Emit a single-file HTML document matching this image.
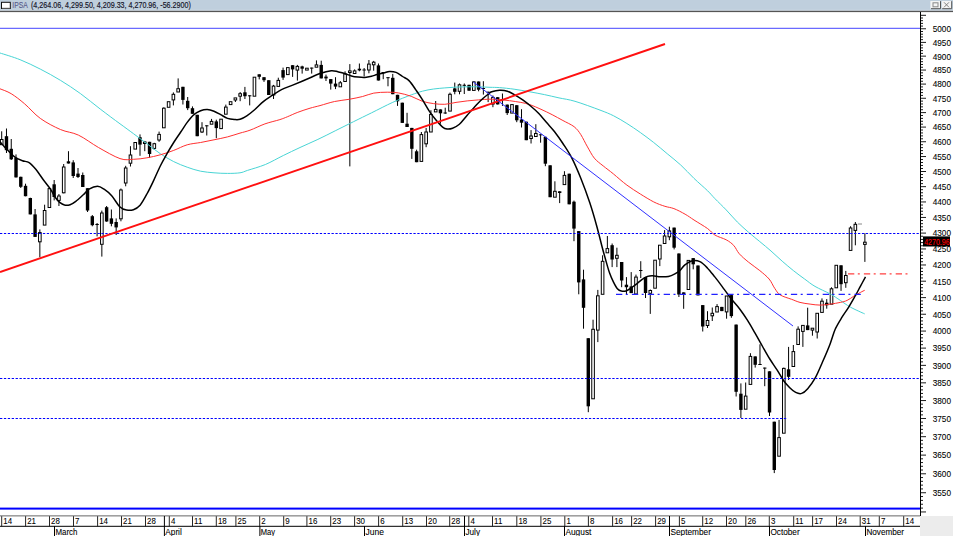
<!DOCTYPE html>
<html><head><meta charset="utf-8"><style>
html,body{margin:0;padding:0;background:#fff;}
#wrap{position:relative;width:953px;height:536px;overflow:hidden;background:#fff;font-family:"Liberation Sans",sans-serif;}
svg{position:absolute;left:0;top:0;}
text{font-family:"Liberation Sans",sans-serif;fill:#000;stroke:#000;stroke-width:0.08px;}
</style></head><body><div id="wrap">
<svg width="953" height="536" viewBox="0 0 953 536">
<rect x="0" y="0" width="953" height="536" fill="#fff"/>
<rect x="920" y="516" width="33" height="20" fill="#ececec"/>
<rect x="0" y="0" width="953" height="10.8" fill="#bfcfdd"/>
<rect x="0" y="9.8" width="953" height="1" fill="#d4dee8"/>
<rect x="0" y="10.8" width="953" height="1.3" fill="#555"/>
<g>
<rect x="1.5" y="2.3" width="8.8" height="6.2" fill="#fff" stroke="#111" stroke-width="1"/>
<line x1="2" y1="8.1" x2="10" y2="8.1" stroke="#999" stroke-width="0.8"/>
</g>
<text x="12.3" y="8.1" font-size="8.2" textLength="15.5" lengthAdjust="spacingAndGlyphs" style="fill:#585888;stroke:#585888;stroke-width:0.1px">IPSA</text>
<text x="31" y="8.1" font-size="8.2" textLength="159.8" lengthAdjust="spacingAndGlyphs" style="fill:#141428;stroke:#141428;stroke-width:0.15px">(4,264.06, 4,299.50, 4,209.33, 4,270.96, -56.2900)</text>
<g>
<rect x="930.4" y="1" width="9.6" height="7.7" fill="#f4f4f4"/>
<path d="M931 8.7 H940.5 V1.2" fill="none" stroke="#555" stroke-width="1"/>
<rect x="933" y="2.8" width="5" height="4" fill="none" stroke="#888" stroke-width="1"/>
<rect x="941.8" y="1" width="9.7" height="7.7" fill="#f4f4f4"/>
<path d="M942.2 8.7 H951.7 V1.2" fill="none" stroke="#555" stroke-width="1"/>
<path d="M944 2.3 L949 7.3 M949 2.3 L944 7.3" fill="none" stroke="#777" stroke-width="0.9"/>
</g>
<svg x="0" y="12" width="920" height="503.5" viewBox="0 12 920 503.5" overflow="hidden">
<line x1="1.70" y1="131.3" x2="1.70" y2="139.5" stroke="#000" stroke-width="1"/>
<line x1="1.70" y1="144.7" x2="1.70" y2="145.0" stroke="#000" stroke-width="1"/>
<rect x="0.40" y="139.5" width="2.6" height="5.2" fill="none" stroke="#000" stroke-width="1"/>
<line x1="6.47" y1="128.5" x2="6.47" y2="153.0" stroke="#000" stroke-width="1"/>
<rect x="4.77" y="136.2" width="3.4" height="14.0" fill="#000"/>
<line x1="11.24" y1="139.0" x2="11.24" y2="160.0" stroke="#000" stroke-width="1"/>
<rect x="9.54" y="148.8" width="3.4" height="10.5" fill="#000"/>
<line x1="16.01" y1="154.4" x2="16.01" y2="177.5" stroke="#000" stroke-width="1"/>
<rect x="14.31" y="158.0" width="3.4" height="19.4" fill="#000"/>
<line x1="20.78" y1="176.7" x2="20.78" y2="188.0" stroke="#000" stroke-width="1"/>
<rect x="19.08" y="176.8" width="3.4" height="10.0" fill="#000"/>
<line x1="25.54" y1="183.7" x2="25.54" y2="196.3" stroke="#000" stroke-width="1"/>
<rect x="23.84" y="185.8" width="3.4" height="10.4" fill="#000"/>
<line x1="30.31" y1="197.7" x2="30.31" y2="214.4" stroke="#000" stroke-width="1"/>
<rect x="28.61" y="198.0" width="3.4" height="16.4" fill="#000"/>
<line x1="35.08" y1="209.0" x2="35.08" y2="236.9" stroke="#000" stroke-width="1"/>
<rect x="33.38" y="214.4" width="3.4" height="22.5" fill="#000"/>
<line x1="39.85" y1="229.4" x2="39.85" y2="232.6" stroke="#000" stroke-width="1"/>
<line x1="39.85" y1="241.8" x2="39.85" y2="257.3" stroke="#000" stroke-width="1"/>
<rect x="38.55" y="232.6" width="2.6" height="9.2" fill="none" stroke="#000" stroke-width="1"/>
<line x1="44.62" y1="204.7" x2="44.62" y2="210.5" stroke="#000" stroke-width="1"/>
<rect x="43.32" y="210.5" width="2.6" height="14.6" fill="none" stroke="#000" stroke-width="1"/>
<line x1="49.39" y1="188.0" x2="49.39" y2="188.6" stroke="#000" stroke-width="1"/>
<rect x="48.09" y="188.6" width="2.6" height="18.9" fill="none" stroke="#000" stroke-width="1"/>
<line x1="54.16" y1="180.0" x2="54.16" y2="200.4" stroke="#000" stroke-width="1"/>
<rect x="52.46" y="184.3" width="3.4" height="12.7" fill="#000"/>
<line x1="58.93" y1="194.0" x2="58.93" y2="196.0" stroke="#000" stroke-width="1"/>
<line x1="58.93" y1="200.4" x2="58.93" y2="206.0" stroke="#000" stroke-width="1"/>
<rect x="57.63" y="196.0" width="2.6" height="4.4" fill="none" stroke="#000" stroke-width="1"/>
<line x1="63.70" y1="164.0" x2="63.70" y2="167.0" stroke="#000" stroke-width="1"/>
<line x1="63.70" y1="192.8" x2="63.70" y2="193.3" stroke="#000" stroke-width="1"/>
<rect x="62.40" y="167.0" width="2.6" height="25.8" fill="none" stroke="#000" stroke-width="1"/>
<line x1="68.47" y1="151.2" x2="68.47" y2="163.5" stroke="#000" stroke-width="1"/>
<rect x="66.77" y="161.3" width="3.4" height="2.2" fill="#000"/>
<line x1="73.23" y1="160.2" x2="73.23" y2="178.0" stroke="#000" stroke-width="1"/>
<rect x="71.53" y="162.4" width="3.4" height="13.6" fill="#000"/>
<line x1="78.00" y1="168.0" x2="78.00" y2="178.0" stroke="#000" stroke-width="1"/>
<rect x="76.30" y="173.6" width="3.4" height="3.4" fill="#000"/>
<line x1="82.77" y1="172.5" x2="82.77" y2="187.0" stroke="#000" stroke-width="1"/>
<rect x="81.07" y="175.0" width="3.4" height="12.0" fill="#000"/>
<line x1="87.54" y1="188.2" x2="87.54" y2="212.0" stroke="#000" stroke-width="1"/>
<rect x="85.84" y="188.2" width="3.4" height="22.3" fill="#000"/>
<line x1="92.31" y1="215.0" x2="92.31" y2="226.3" stroke="#000" stroke-width="1"/>
<rect x="90.61" y="216.2" width="3.4" height="9.0" fill="#000"/>
<line x1="97.08" y1="223.0" x2="97.08" y2="236.4" stroke="#000" stroke-width="1"/>
<rect x="95.38" y="224.0" width="3.4" height="1.0" fill="#000"/>
<line x1="101.85" y1="210.6" x2="101.85" y2="213.0" stroke="#000" stroke-width="1"/>
<line x1="101.85" y1="244.3" x2="101.85" y2="256.6" stroke="#000" stroke-width="1"/>
<rect x="100.55" y="213.0" width="2.6" height="31.3" fill="none" stroke="#000" stroke-width="1"/>
<line x1="106.62" y1="206.0" x2="106.62" y2="221.8" stroke="#000" stroke-width="1"/>
<rect x="104.92" y="207.2" width="3.4" height="14.3" fill="#000"/>
<line x1="111.39" y1="209.5" x2="111.39" y2="226.3" stroke="#000" stroke-width="1"/>
<rect x="109.69" y="218.4" width="3.4" height="5.4" fill="#000"/>
<line x1="116.16" y1="218.4" x2="116.16" y2="235.0" stroke="#000" stroke-width="1"/>
<rect x="114.46" y="222.0" width="3.4" height="5.4" fill="#000"/>
<line x1="120.93" y1="188.5" x2="120.93" y2="190.0" stroke="#000" stroke-width="1"/>
<line x1="120.93" y1="218.8" x2="120.93" y2="221.3" stroke="#000" stroke-width="1"/>
<rect x="119.63" y="190.0" width="2.6" height="28.8" fill="none" stroke="#000" stroke-width="1"/>
<line x1="125.69" y1="165.8" x2="125.69" y2="168.0" stroke="#000" stroke-width="1"/>
<line x1="125.69" y1="183.0" x2="125.69" y2="186.3" stroke="#000" stroke-width="1"/>
<rect x="124.39" y="168.0" width="2.6" height="15.0" fill="none" stroke="#000" stroke-width="1"/>
<line x1="130.46" y1="146.2" x2="130.46" y2="155.0" stroke="#000" stroke-width="1"/>
<line x1="130.46" y1="163.2" x2="130.46" y2="166.5" stroke="#000" stroke-width="1"/>
<rect x="129.16" y="155.0" width="2.6" height="8.2" fill="none" stroke="#000" stroke-width="1"/>
<line x1="135.23" y1="142.2" x2="135.23" y2="142.5" stroke="#000" stroke-width="1"/>
<rect x="133.93" y="142.5" width="2.6" height="6.6" fill="none" stroke="#000" stroke-width="1"/>
<line x1="140.00" y1="134.4" x2="140.00" y2="155.8" stroke="#000" stroke-width="1"/>
<rect x="138.30" y="137.2" width="3.4" height="7.4" fill="#000"/>
<line x1="144.77" y1="140.9" x2="144.77" y2="142.0" stroke="#000" stroke-width="1"/>
<line x1="144.77" y1="143.5" x2="144.77" y2="151.2" stroke="#000" stroke-width="1"/>
<rect x="143.47" y="142.0" width="2.6" height="1.5" fill="none" stroke="#000" stroke-width="1"/>
<line x1="149.54" y1="141.8" x2="149.54" y2="157.7" stroke="#000" stroke-width="1"/>
<rect x="147.84" y="141.8" width="3.4" height="12.2" fill="#000"/>
<line x1="154.31" y1="142.8" x2="154.31" y2="143.7" stroke="#000" stroke-width="1"/>
<line x1="154.31" y1="148.4" x2="154.31" y2="150.0" stroke="#000" stroke-width="1"/>
<rect x="153.01" y="143.7" width="2.6" height="4.7" fill="none" stroke="#000" stroke-width="1"/>
<line x1="159.08" y1="131.6" x2="159.08" y2="134.4" stroke="#000" stroke-width="1"/>
<line x1="159.08" y1="140.0" x2="159.08" y2="141.8" stroke="#000" stroke-width="1"/>
<rect x="157.78" y="134.4" width="2.6" height="5.6" fill="none" stroke="#000" stroke-width="1"/>
<line x1="163.85" y1="107.3" x2="163.85" y2="108.2" stroke="#000" stroke-width="1"/>
<rect x="162.55" y="108.2" width="2.6" height="19.6" fill="none" stroke="#000" stroke-width="1"/>
<rect x="167.31" y="101.7" width="2.6" height="5.6" fill="none" stroke="#000" stroke-width="1"/>
<line x1="173.38" y1="92.4" x2="173.38" y2="94.3" stroke="#000" stroke-width="1"/>
<line x1="173.38" y1="99.9" x2="173.38" y2="105.4" stroke="#000" stroke-width="1"/>
<rect x="172.08" y="94.3" width="2.6" height="5.6" fill="none" stroke="#000" stroke-width="1"/>
<line x1="178.15" y1="78.4" x2="178.15" y2="88.7" stroke="#000" stroke-width="1"/>
<rect x="176.85" y="88.7" width="2.6" height="3.3" fill="none" stroke="#000" stroke-width="1"/>
<line x1="182.92" y1="86.8" x2="182.92" y2="104.5" stroke="#000" stroke-width="1"/>
<rect x="181.22" y="86.8" width="3.4" height="13.1" fill="#000"/>
<line x1="187.69" y1="97.0" x2="187.69" y2="110.1" stroke="#000" stroke-width="1"/>
<rect x="185.99" y="100.8" width="3.4" height="7.4" fill="#000"/>
<line x1="192.46" y1="106.4" x2="192.46" y2="113.8" stroke="#000" stroke-width="1"/>
<rect x="190.76" y="108.2" width="3.4" height="5.6" fill="#000"/>
<line x1="197.23" y1="114.8" x2="197.23" y2="136.2" stroke="#000" stroke-width="1"/>
<rect x="195.53" y="114.8" width="3.4" height="21.4" fill="#000"/>
<line x1="202.00" y1="122.2" x2="202.00" y2="128.0" stroke="#000" stroke-width="1"/>
<line x1="202.00" y1="132.0" x2="202.00" y2="133.0" stroke="#000" stroke-width="1"/>
<rect x="200.70" y="128.0" width="2.6" height="4.0" fill="none" stroke="#000" stroke-width="1"/>
<line x1="206.77" y1="125.3" x2="206.77" y2="135.5" stroke="#000" stroke-width="1"/>
<rect x="205.07" y="125.3" width="3.4" height="1.0" fill="#000"/>
<line x1="211.54" y1="118.9" x2="211.54" y2="121.4" stroke="#000" stroke-width="1"/>
<rect x="210.24" y="121.4" width="2.6" height="2.8" fill="none" stroke="#000" stroke-width="1"/>
<line x1="216.31" y1="119.7" x2="216.31" y2="138.2" stroke="#000" stroke-width="1"/>
<rect x="214.61" y="121.4" width="3.4" height="6.7" fill="#000"/>
<rect x="219.77" y="119.2" width="2.6" height="9.4" fill="none" stroke="#000" stroke-width="1"/>
<line x1="225.84" y1="104.6" x2="225.84" y2="107.1" stroke="#000" stroke-width="1"/>
<rect x="224.54" y="107.1" width="2.6" height="7.1" fill="none" stroke="#000" stroke-width="1"/>
<rect x="229.31" y="101.7" width="2.6" height="2.9" fill="none" stroke="#000" stroke-width="1"/>
<line x1="235.38" y1="100.0" x2="235.38" y2="102.0" stroke="#000" stroke-width="1"/>
<rect x="234.08" y="97.9" width="2.6" height="2.1" fill="none" stroke="#000" stroke-width="1"/>
<line x1="240.15" y1="92.0" x2="240.15" y2="93.7" stroke="#000" stroke-width="1"/>
<line x1="240.15" y1="96.2" x2="240.15" y2="101.2" stroke="#000" stroke-width="1"/>
<rect x="238.85" y="93.7" width="2.6" height="2.5" fill="none" stroke="#000" stroke-width="1"/>
<line x1="244.92" y1="86.9" x2="244.92" y2="99.0" stroke="#000" stroke-width="1"/>
<rect x="243.22" y="92.3" width="3.4" height="3.9" fill="#000"/>
<line x1="249.69" y1="95.3" x2="249.69" y2="105.4" stroke="#000" stroke-width="1"/>
<rect x="247.99" y="95.3" width="3.4" height="1.0" fill="#000"/>
<rect x="253.16" y="77.2" width="2.6" height="19.0" fill="none" stroke="#000" stroke-width="1"/>
<line x1="259.23" y1="74.3" x2="259.23" y2="79.4" stroke="#000" stroke-width="1"/>
<rect x="257.53" y="74.3" width="3.4" height="2.5" fill="#000"/>
<line x1="264.00" y1="77.2" x2="264.00" y2="81.9" stroke="#000" stroke-width="1"/>
<rect x="262.30" y="77.2" width="3.4" height="3.0" fill="#000"/>
<line x1="268.76" y1="80.2" x2="268.76" y2="95.0" stroke="#000" stroke-width="1"/>
<rect x="267.06" y="80.2" width="3.4" height="14.8" fill="#000"/>
<line x1="273.53" y1="84.9" x2="273.53" y2="86.1" stroke="#000" stroke-width="1"/>
<line x1="273.53" y1="95.0" x2="273.53" y2="99.0" stroke="#000" stroke-width="1"/>
<rect x="272.23" y="86.1" width="2.6" height="8.9" fill="none" stroke="#000" stroke-width="1"/>
<line x1="278.30" y1="77.7" x2="278.30" y2="80.4" stroke="#000" stroke-width="1"/>
<rect x="277.00" y="80.4" width="2.6" height="6.0" fill="none" stroke="#000" stroke-width="1"/>
<line x1="283.07" y1="67.6" x2="283.07" y2="79.9" stroke="#000" stroke-width="1"/>
<rect x="281.37" y="70.1" width="3.4" height="7.5" fill="#000"/>
<rect x="286.54" y="67.6" width="2.6" height="7.0" fill="none" stroke="#000" stroke-width="1"/>
<line x1="292.61" y1="65.2" x2="292.61" y2="76.9" stroke="#000" stroke-width="1"/>
<rect x="290.91" y="65.2" width="3.4" height="4.2" fill="#000"/>
<line x1="297.38" y1="64.9" x2="297.38" y2="66.4" stroke="#000" stroke-width="1"/>
<line x1="297.38" y1="70.1" x2="297.38" y2="80.6" stroke="#000" stroke-width="1"/>
<rect x="296.08" y="66.4" width="2.6" height="3.7" fill="none" stroke="#000" stroke-width="1"/>
<line x1="302.15" y1="65.7" x2="302.15" y2="73.6" stroke="#000" stroke-width="1"/>
<rect x="300.45" y="66.4" width="3.4" height="2.3" fill="#000"/>
<rect x="305.62" y="68.2" width="2.6" height="1.9" fill="none" stroke="#000" stroke-width="1"/>
<line x1="311.69" y1="67.6" x2="311.69" y2="73.6" stroke="#000" stroke-width="1"/>
<rect x="309.99" y="67.6" width="3.4" height="1.0" fill="#000"/>
<line x1="316.45" y1="60.4" x2="316.45" y2="64.9" stroke="#000" stroke-width="1"/>
<rect x="315.15" y="64.9" width="2.6" height="2.3" fill="none" stroke="#000" stroke-width="1"/>
<line x1="321.22" y1="60.7" x2="321.22" y2="78.4" stroke="#000" stroke-width="1"/>
<rect x="319.52" y="64.9" width="3.4" height="13.5" fill="#000"/>
<line x1="325.99" y1="74.6" x2="325.99" y2="81.0" stroke="#000" stroke-width="1"/>
<rect x="324.29" y="76.6" width="3.4" height="1.8" fill="#000"/>
<line x1="330.76" y1="79.1" x2="330.76" y2="89.6" stroke="#000" stroke-width="1"/>
<rect x="329.06" y="79.1" width="3.4" height="4.5" fill="#000"/>
<line x1="335.53" y1="77.2" x2="335.53" y2="89.1" stroke="#000" stroke-width="1"/>
<rect x="333.83" y="83.6" width="3.4" height="3.0" fill="#000"/>
<line x1="340.30" y1="81.0" x2="340.30" y2="82.8" stroke="#000" stroke-width="1"/>
<rect x="339.00" y="82.8" width="2.6" height="4.0" fill="none" stroke="#000" stroke-width="1"/>
<line x1="345.07" y1="71.3" x2="345.07" y2="74.0" stroke="#000" stroke-width="1"/>
<rect x="343.77" y="74.0" width="2.6" height="7.5" fill="none" stroke="#000" stroke-width="1"/>
<line x1="349.84" y1="64.1" x2="349.84" y2="70.9" stroke="#000" stroke-width="1"/>
<line x1="349.84" y1="72.5" x2="349.84" y2="166.4" stroke="#000" stroke-width="1"/>
<rect x="348.54" y="70.9" width="2.6" height="1.6" fill="none" stroke="#000" stroke-width="1"/>
<line x1="354.61" y1="69.4" x2="354.61" y2="70.9" stroke="#000" stroke-width="1"/>
<line x1="354.61" y1="73.5" x2="354.61" y2="73.9" stroke="#000" stroke-width="1"/>
<rect x="353.31" y="70.9" width="2.6" height="2.6" fill="none" stroke="#000" stroke-width="1"/>
<line x1="359.38" y1="63.5" x2="359.38" y2="71.3" stroke="#000" stroke-width="1"/>
<rect x="357.68" y="68.7" width="3.4" height="1.7" fill="#000"/>
<line x1="364.14" y1="68.0" x2="364.14" y2="76.5" stroke="#000" stroke-width="1"/>
<rect x="362.44" y="69.5" width="3.4" height="1.0" fill="#000"/>
<line x1="368.91" y1="60.0" x2="368.91" y2="64.1" stroke="#000" stroke-width="1"/>
<line x1="368.91" y1="70.0" x2="368.91" y2="73.3" stroke="#000" stroke-width="1"/>
<rect x="367.61" y="64.1" width="2.6" height="5.9" fill="none" stroke="#000" stroke-width="1"/>
<line x1="373.68" y1="60.9" x2="373.68" y2="62.2" stroke="#000" stroke-width="1"/>
<line x1="373.68" y1="64.8" x2="373.68" y2="70.7" stroke="#000" stroke-width="1"/>
<rect x="372.38" y="62.2" width="2.6" height="2.6" fill="none" stroke="#000" stroke-width="1"/>
<line x1="378.45" y1="63.5" x2="378.45" y2="80.5" stroke="#000" stroke-width="1"/>
<rect x="376.75" y="65.4" width="3.4" height="15.1" fill="#000"/>
<line x1="383.22" y1="72.0" x2="383.22" y2="79.2" stroke="#000" stroke-width="1"/>
<rect x="381.52" y="72.0" width="3.4" height="1.0" fill="#000"/>
<line x1="387.99" y1="77.2" x2="387.99" y2="86.3" stroke="#000" stroke-width="1"/>
<rect x="386.29" y="77.2" width="3.4" height="1.0" fill="#000"/>
<line x1="392.76" y1="73.9" x2="392.76" y2="94.2" stroke="#000" stroke-width="1"/>
<rect x="391.06" y="77.8" width="3.4" height="16.4" fill="#000"/>
<line x1="397.53" y1="94.8" x2="397.53" y2="105.9" stroke="#000" stroke-width="1"/>
<rect x="395.83" y="94.8" width="3.4" height="6.5" fill="#000"/>
<line x1="402.30" y1="102.7" x2="402.30" y2="122.9" stroke="#000" stroke-width="1"/>
<rect x="400.60" y="102.7" width="3.4" height="20.2" fill="#000"/>
<line x1="407.06" y1="112.8" x2="407.06" y2="127.0" stroke="#000" stroke-width="1"/>
<rect x="405.37" y="123.7" width="3.4" height="3.3" fill="#000"/>
<line x1="411.83" y1="127.9" x2="411.83" y2="158.9" stroke="#000" stroke-width="1"/>
<rect x="410.13" y="127.9" width="3.4" height="20.9" fill="#000"/>
<line x1="416.60" y1="149.7" x2="416.60" y2="162.2" stroke="#000" stroke-width="1"/>
<rect x="414.90" y="151.3" width="3.4" height="10.9" fill="#000"/>
<line x1="421.37" y1="132.0" x2="421.37" y2="134.6" stroke="#000" stroke-width="1"/>
<rect x="420.07" y="134.6" width="2.6" height="26.8" fill="none" stroke="#000" stroke-width="1"/>
<line x1="426.14" y1="127.9" x2="426.14" y2="132.0" stroke="#000" stroke-width="1"/>
<line x1="426.14" y1="143.8" x2="426.14" y2="147.2" stroke="#000" stroke-width="1"/>
<rect x="424.84" y="132.0" width="2.6" height="11.8" fill="none" stroke="#000" stroke-width="1"/>
<line x1="430.91" y1="110.2" x2="430.91" y2="114.4" stroke="#000" stroke-width="1"/>
<rect x="429.61" y="114.4" width="2.6" height="17.6" fill="none" stroke="#000" stroke-width="1"/>
<line x1="435.68" y1="101.0" x2="435.68" y2="109.4" stroke="#000" stroke-width="1"/>
<rect x="434.38" y="109.4" width="2.6" height="2.5" fill="none" stroke="#000" stroke-width="1"/>
<line x1="440.45" y1="109.4" x2="440.45" y2="123.7" stroke="#000" stroke-width="1"/>
<rect x="438.75" y="109.4" width="3.4" height="3.9" fill="#000"/>
<line x1="445.22" y1="107.7" x2="445.22" y2="113.9" stroke="#000" stroke-width="1"/>
<rect x="443.52" y="112.5" width="3.4" height="1.0" fill="#000"/>
<line x1="449.99" y1="92.6" x2="449.99" y2="94.3" stroke="#000" stroke-width="1"/>
<rect x="448.69" y="94.3" width="2.6" height="16.8" fill="none" stroke="#000" stroke-width="1"/>
<line x1="454.75" y1="82.6" x2="454.75" y2="94.3" stroke="#000" stroke-width="1"/>
<rect x="453.06" y="88.4" width="3.4" height="3.4" fill="#000"/>
<line x1="459.52" y1="83.5" x2="459.52" y2="84.8" stroke="#000" stroke-width="1"/>
<line x1="459.52" y1="91.3" x2="459.52" y2="94.3" stroke="#000" stroke-width="1"/>
<rect x="458.22" y="84.8" width="2.6" height="6.5" fill="none" stroke="#000" stroke-width="1"/>
<line x1="464.29" y1="83.5" x2="464.29" y2="94.0" stroke="#000" stroke-width="1"/>
<rect x="462.59" y="84.8" width="3.4" height="1.0" fill="#000"/>
<line x1="469.06" y1="84.8" x2="469.06" y2="90.9" stroke="#000" stroke-width="1"/>
<rect x="467.36" y="84.8" width="3.4" height="5.9" fill="#000"/>
<line x1="473.83" y1="81.2" x2="473.83" y2="81.9" stroke="#000" stroke-width="1"/>
<rect x="472.53" y="81.9" width="2.6" height="8.5" fill="none" stroke="#000" stroke-width="1"/>
<line x1="478.60" y1="81.5" x2="478.60" y2="91.3" stroke="#000" stroke-width="1"/>
<rect x="476.90" y="81.5" width="3.4" height="8.2" fill="#000"/>
<line x1="483.37" y1="81.2" x2="483.37" y2="94.6" stroke="#000" stroke-width="1"/>
<rect x="481.67" y="88.0" width="3.4" height="1.0" fill="#000"/>
<line x1="488.14" y1="91.7" x2="488.14" y2="102.1" stroke="#000" stroke-width="1"/>
<rect x="486.44" y="91.7" width="3.4" height="1.0" fill="#000"/>
<line x1="492.91" y1="95.5" x2="492.91" y2="97.4" stroke="#000" stroke-width="1"/>
<line x1="492.91" y1="104.0" x2="492.91" y2="107.2" stroke="#000" stroke-width="1"/>
<rect x="491.61" y="97.4" width="2.6" height="6.6" fill="none" stroke="#000" stroke-width="1"/>
<line x1="497.68" y1="97.0" x2="497.68" y2="104.5" stroke="#000" stroke-width="1"/>
<rect x="495.98" y="97.2" width="3.4" height="7.2" fill="#000"/>
<line x1="502.44" y1="93.5" x2="502.44" y2="105.9" stroke="#000" stroke-width="1"/>
<rect x="500.75" y="99.0" width="3.4" height="1.0" fill="#000"/>
<line x1="507.21" y1="104.6" x2="507.21" y2="115.0" stroke="#000" stroke-width="1"/>
<rect x="505.51" y="104.6" width="3.4" height="8.5" fill="#000"/>
<rect x="510.68" y="104.6" width="2.6" height="8.5" fill="none" stroke="#000" stroke-width="1"/>
<line x1="516.75" y1="105.2" x2="516.75" y2="122.2" stroke="#000" stroke-width="1"/>
<rect x="515.05" y="105.2" width="3.4" height="15.1" fill="#000"/>
<line x1="521.52" y1="109.2" x2="521.52" y2="127.5" stroke="#000" stroke-width="1"/>
<rect x="519.82" y="119.5" width="3.4" height="3.2" fill="#000"/>
<line x1="526.29" y1="121.7" x2="526.29" y2="140.2" stroke="#000" stroke-width="1"/>
<rect x="524.59" y="121.7" width="3.4" height="18.5" fill="#000"/>
<line x1="531.06" y1="130.1" x2="531.06" y2="136.0" stroke="#000" stroke-width="1"/>
<line x1="531.06" y1="138.5" x2="531.06" y2="143.5" stroke="#000" stroke-width="1"/>
<rect x="529.76" y="136.0" width="2.6" height="2.5" fill="none" stroke="#000" stroke-width="1"/>
<line x1="535.83" y1="124.2" x2="535.83" y2="133.5" stroke="#000" stroke-width="1"/>
<rect x="534.53" y="133.5" width="2.6" height="3.0" fill="none" stroke="#000" stroke-width="1"/>
<line x1="540.60" y1="134.3" x2="540.60" y2="142.7" stroke="#000" stroke-width="1"/>
<rect x="538.90" y="134.3" width="3.4" height="1.0" fill="#000"/>
<line x1="545.37" y1="136.8" x2="545.37" y2="166.2" stroke="#000" stroke-width="1"/>
<rect x="543.67" y="136.8" width="3.4" height="26.9" fill="#000"/>
<line x1="550.14" y1="165.3" x2="550.14" y2="197.2" stroke="#000" stroke-width="1"/>
<rect x="548.44" y="165.3" width="3.4" height="31.9" fill="#000"/>
<line x1="554.90" y1="181.3" x2="554.90" y2="191.3" stroke="#000" stroke-width="1"/>
<rect x="553.60" y="191.3" width="2.6" height="5.9" fill="none" stroke="#000" stroke-width="1"/>
<line x1="559.67" y1="191.3" x2="559.67" y2="203.1" stroke="#000" stroke-width="1"/>
<rect x="557.97" y="191.3" width="3.4" height="1.7" fill="#000"/>
<line x1="564.44" y1="171.2" x2="564.44" y2="175.4" stroke="#000" stroke-width="1"/>
<rect x="563.14" y="175.4" width="2.6" height="9.2" fill="none" stroke="#000" stroke-width="1"/>
<line x1="569.21" y1="173.7" x2="569.21" y2="204.3" stroke="#000" stroke-width="1"/>
<rect x="567.51" y="173.7" width="3.4" height="30.6" fill="#000"/>
<line x1="573.98" y1="200.6" x2="573.98" y2="241.2" stroke="#000" stroke-width="1"/>
<rect x="572.28" y="201.7" width="3.4" height="26.9" fill="#000"/>
<line x1="578.75" y1="231.1" x2="578.75" y2="294.3" stroke="#000" stroke-width="1"/>
<rect x="577.05" y="231.1" width="3.4" height="51.3" fill="#000"/>
<line x1="583.52" y1="269.7" x2="583.52" y2="328.7" stroke="#000" stroke-width="1"/>
<rect x="581.82" y="279.4" width="3.4" height="28.4" fill="#000"/>
<line x1="588.29" y1="338.2" x2="588.29" y2="412.2" stroke="#000" stroke-width="1"/>
<rect x="586.59" y="338.2" width="3.4" height="68.1" fill="#000"/>
<line x1="593.06" y1="319.7" x2="593.06" y2="329.3" stroke="#000" stroke-width="1"/>
<rect x="591.76" y="329.3" width="2.6" height="69.5" fill="none" stroke="#000" stroke-width="1"/>
<line x1="597.83" y1="289.9" x2="597.83" y2="295.8" stroke="#000" stroke-width="1"/>
<line x1="597.83" y1="330.1" x2="597.83" y2="342.1" stroke="#000" stroke-width="1"/>
<rect x="596.53" y="295.8" width="2.6" height="34.3" fill="none" stroke="#000" stroke-width="1"/>
<line x1="602.59" y1="255.3" x2="602.59" y2="261.3" stroke="#000" stroke-width="1"/>
<rect x="601.29" y="261.3" width="2.6" height="33.0" fill="none" stroke="#000" stroke-width="1"/>
<line x1="607.36" y1="236.0" x2="607.36" y2="248.6" stroke="#000" stroke-width="1"/>
<rect x="606.06" y="248.6" width="2.6" height="4.2" fill="none" stroke="#000" stroke-width="1"/>
<line x1="612.13" y1="243.5" x2="612.13" y2="267.1" stroke="#000" stroke-width="1"/>
<rect x="610.43" y="245.2" width="3.4" height="14.3" fill="#000"/>
<line x1="616.90" y1="247.7" x2="616.90" y2="255.3" stroke="#000" stroke-width="1"/>
<line x1="616.90" y1="258.3" x2="616.90" y2="267.1" stroke="#000" stroke-width="1"/>
<rect x="615.60" y="255.3" width="2.6" height="3.0" fill="none" stroke="#000" stroke-width="1"/>
<line x1="621.67" y1="262.0" x2="621.67" y2="287.2" stroke="#000" stroke-width="1"/>
<rect x="619.97" y="262.0" width="3.4" height="18.5" fill="#000"/>
<line x1="626.44" y1="277.1" x2="626.44" y2="294.0" stroke="#000" stroke-width="1"/>
<rect x="624.74" y="284.7" width="3.4" height="2.5" fill="#000"/>
<line x1="631.21" y1="272.1" x2="631.21" y2="293.1" stroke="#000" stroke-width="1"/>
<rect x="629.51" y="286.4" width="3.4" height="6.7" fill="#000"/>
<line x1="635.98" y1="274.6" x2="635.98" y2="277.1" stroke="#000" stroke-width="1"/>
<rect x="634.68" y="277.1" width="2.6" height="16.9" fill="none" stroke="#000" stroke-width="1"/>
<line x1="640.75" y1="261.2" x2="640.75" y2="278.0" stroke="#000" stroke-width="1"/>
<rect x="639.05" y="270.0" width="3.4" height="1.0" fill="#000"/>
<line x1="645.52" y1="276.9" x2="645.52" y2="298.0" stroke="#000" stroke-width="1"/>
<rect x="643.82" y="277.0" width="3.4" height="16.0" fill="#000"/>
<line x1="650.28" y1="289.5" x2="650.28" y2="290.5" stroke="#000" stroke-width="1"/>
<line x1="650.28" y1="293.3" x2="650.28" y2="313.9" stroke="#000" stroke-width="1"/>
<rect x="648.98" y="290.5" width="2.6" height="2.8" fill="none" stroke="#000" stroke-width="1"/>
<rect x="653.75" y="260.2" width="2.6" height="28.0" fill="none" stroke="#000" stroke-width="1"/>
<line x1="659.82" y1="259.0" x2="659.82" y2="266.1" stroke="#000" stroke-width="1"/>
<rect x="658.52" y="245.2" width="2.6" height="13.8" fill="none" stroke="#000" stroke-width="1"/>
<line x1="664.59" y1="230.1" x2="664.59" y2="236.0" stroke="#000" stroke-width="1"/>
<rect x="663.29" y="236.0" width="2.6" height="7.5" fill="none" stroke="#000" stroke-width="1"/>
<line x1="669.36" y1="226.7" x2="669.36" y2="230.9" stroke="#000" stroke-width="1"/>
<line x1="669.36" y1="236.8" x2="669.36" y2="240.2" stroke="#000" stroke-width="1"/>
<rect x="668.06" y="230.9" width="2.6" height="5.9" fill="none" stroke="#000" stroke-width="1"/>
<line x1="674.13" y1="227.6" x2="674.13" y2="249.4" stroke="#000" stroke-width="1"/>
<rect x="672.43" y="227.6" width="3.4" height="20.1" fill="#000"/>
<line x1="678.90" y1="253.4" x2="678.90" y2="297.0" stroke="#000" stroke-width="1"/>
<rect x="677.20" y="253.5" width="3.4" height="41.0" fill="#000"/>
<line x1="683.67" y1="292.4" x2="683.67" y2="308.8" stroke="#000" stroke-width="1"/>
<rect x="681.97" y="292.4" width="3.4" height="1.6" fill="#000"/>
<rect x="687.14" y="260.4" width="2.6" height="29.1" fill="none" stroke="#000" stroke-width="1"/>
<line x1="693.21" y1="258.1" x2="693.21" y2="269.3" stroke="#000" stroke-width="1"/>
<rect x="691.50" y="258.1" width="3.4" height="6.2" fill="#000"/>
<line x1="697.97" y1="265.5" x2="697.97" y2="295.4" stroke="#000" stroke-width="1"/>
<rect x="696.27" y="265.5" width="3.4" height="29.9" fill="#000"/>
<line x1="702.74" y1="305.1" x2="702.74" y2="331.5" stroke="#000" stroke-width="1"/>
<rect x="701.04" y="305.1" width="3.4" height="21.4" fill="#000"/>
<line x1="707.51" y1="311.2" x2="707.51" y2="320.5" stroke="#000" stroke-width="1"/>
<line x1="707.51" y1="325.5" x2="707.51" y2="328.0" stroke="#000" stroke-width="1"/>
<rect x="706.21" y="320.5" width="2.6" height="5.0" fill="none" stroke="#000" stroke-width="1"/>
<line x1="712.28" y1="307.5" x2="712.28" y2="313.3" stroke="#000" stroke-width="1"/>
<line x1="712.28" y1="315.8" x2="712.28" y2="321.0" stroke="#000" stroke-width="1"/>
<rect x="710.98" y="313.3" width="2.6" height="2.5" fill="none" stroke="#000" stroke-width="1"/>
<line x1="717.05" y1="304.1" x2="717.05" y2="306.6" stroke="#000" stroke-width="1"/>
<rect x="715.75" y="306.6" width="2.6" height="5.4" fill="none" stroke="#000" stroke-width="1"/>
<line x1="721.82" y1="306.9" x2="721.82" y2="311.1" stroke="#000" stroke-width="1"/>
<rect x="720.12" y="306.9" width="3.4" height="4.2" fill="#000"/>
<line x1="726.59" y1="311.9" x2="726.59" y2="318.7" stroke="#000" stroke-width="1"/>
<rect x="725.29" y="296.0" width="2.6" height="15.9" fill="none" stroke="#000" stroke-width="1"/>
<line x1="731.36" y1="295.1" x2="731.36" y2="317.8" stroke="#000" stroke-width="1"/>
<rect x="729.66" y="295.1" width="3.4" height="21.0" fill="#000"/>
<line x1="736.13" y1="324.5" x2="736.13" y2="396.5" stroke="#000" stroke-width="1"/>
<rect x="734.43" y="324.6" width="3.4" height="67.2" fill="#000"/>
<line x1="740.90" y1="383.4" x2="740.90" y2="418.0" stroke="#000" stroke-width="1"/>
<rect x="739.20" y="393.7" width="3.4" height="16.2" fill="#000"/>
<line x1="745.66" y1="382.5" x2="745.66" y2="396.1" stroke="#000" stroke-width="1"/>
<rect x="744.36" y="396.1" width="2.6" height="13.1" fill="none" stroke="#000" stroke-width="1"/>
<line x1="750.43" y1="353.2" x2="750.43" y2="356.4" stroke="#000" stroke-width="1"/>
<rect x="749.13" y="356.4" width="2.6" height="28.0" fill="none" stroke="#000" stroke-width="1"/>
<line x1="755.20" y1="356.4" x2="755.20" y2="367.6" stroke="#000" stroke-width="1"/>
<rect x="753.50" y="356.4" width="3.4" height="8.4" fill="#000"/>
<line x1="759.97" y1="344.3" x2="759.97" y2="364.8" stroke="#000" stroke-width="1"/>
<rect x="758.27" y="364.0" width="3.4" height="1.0" fill="#000"/>
<line x1="764.74" y1="367.6" x2="764.74" y2="386.2" stroke="#000" stroke-width="1"/>
<rect x="763.04" y="367.6" width="3.4" height="1.0" fill="#000"/>
<line x1="769.51" y1="371.3" x2="769.51" y2="416.0" stroke="#000" stroke-width="1"/>
<rect x="767.81" y="371.3" width="3.4" height="41.2" fill="#000"/>
<line x1="774.28" y1="421.7" x2="774.28" y2="473.1" stroke="#000" stroke-width="1"/>
<rect x="772.58" y="421.7" width="3.4" height="48.3" fill="#000"/>
<line x1="779.05" y1="419.9" x2="779.05" y2="437.6" stroke="#000" stroke-width="1"/>
<rect x="777.75" y="437.6" width="2.6" height="18.6" fill="none" stroke="#000" stroke-width="1"/>
<line x1="783.82" y1="367.6" x2="783.82" y2="368.4" stroke="#000" stroke-width="1"/>
<rect x="782.52" y="368.4" width="2.6" height="64.8" fill="none" stroke="#000" stroke-width="1"/>
<line x1="788.59" y1="346.9" x2="788.59" y2="380.0" stroke="#000" stroke-width="1"/>
<rect x="786.88" y="369.3" width="3.4" height="7.5" fill="#000"/>
<line x1="793.35" y1="345.0" x2="793.35" y2="351.6" stroke="#000" stroke-width="1"/>
<rect x="792.05" y="351.6" width="2.6" height="14.9" fill="none" stroke="#000" stroke-width="1"/>
<line x1="798.12" y1="326.4" x2="798.12" y2="329.2" stroke="#000" stroke-width="1"/>
<rect x="796.82" y="329.2" width="2.6" height="15.3" fill="none" stroke="#000" stroke-width="1"/>
<line x1="802.89" y1="331.4" x2="802.89" y2="346.9" stroke="#000" stroke-width="1"/>
<rect x="801.59" y="325.4" width="2.6" height="6.0" fill="none" stroke="#000" stroke-width="1"/>
<line x1="807.66" y1="307.7" x2="807.66" y2="330.1" stroke="#000" stroke-width="1"/>
<rect x="805.96" y="325.4" width="3.4" height="4.7" fill="#000"/>
<line x1="812.43" y1="330.1" x2="812.43" y2="335.7" stroke="#000" stroke-width="1"/>
<rect x="811.13" y="328.2" width="2.6" height="1.9" fill="none" stroke="#000" stroke-width="1"/>
<line x1="817.20" y1="332.0" x2="817.20" y2="338.5" stroke="#000" stroke-width="1"/>
<rect x="815.90" y="313.3" width="2.6" height="18.7" fill="none" stroke="#000" stroke-width="1"/>
<line x1="821.97" y1="298.4" x2="821.97" y2="301.2" stroke="#000" stroke-width="1"/>
<rect x="820.67" y="301.2" width="2.6" height="11.2" fill="none" stroke="#000" stroke-width="1"/>
<line x1="826.74" y1="299.1" x2="826.74" y2="308.7" stroke="#000" stroke-width="1"/>
<rect x="825.04" y="302.7" width="3.4" height="2.6" fill="#000"/>
<line x1="831.51" y1="287.3" x2="831.51" y2="288.8" stroke="#000" stroke-width="1"/>
<rect x="830.21" y="288.8" width="2.6" height="15.4" fill="none" stroke="#000" stroke-width="1"/>
<rect x="834.98" y="265.3" width="2.6" height="22.5" fill="none" stroke="#000" stroke-width="1"/>
<line x1="841.04" y1="265.3" x2="841.04" y2="290.9" stroke="#000" stroke-width="1"/>
<rect x="839.34" y="265.3" width="3.4" height="18.9" fill="#000"/>
<line x1="845.81" y1="270.9" x2="845.81" y2="275.5" stroke="#000" stroke-width="1"/>
<line x1="845.81" y1="282.7" x2="845.81" y2="287.8" stroke="#000" stroke-width="1"/>
<rect x="844.51" y="275.5" width="2.6" height="7.2" fill="none" stroke="#000" stroke-width="1"/>
<line x1="850.58" y1="226.2" x2="850.58" y2="228.0" stroke="#000" stroke-width="1"/>
<rect x="849.28" y="228.0" width="2.6" height="22.4" fill="none" stroke="#000" stroke-width="1"/>
<line x1="855.35" y1="222.0" x2="855.35" y2="224.3" stroke="#000" stroke-width="1"/>
<line x1="855.35" y1="230.4" x2="855.35" y2="245.3" stroke="#000" stroke-width="1"/>
<rect x="854.05" y="224.3" width="2.6" height="6.1" fill="none" stroke="#000" stroke-width="1"/>
<line x1="864.89" y1="233.2" x2="864.89" y2="242.2" stroke="#000" stroke-width="1"/>
<line x1="864.89" y1="244.4" x2="864.89" y2="261.9" stroke="#000" stroke-width="1"/>
<rect x="863.59" y="242.2" width="2.6" height="2.2" fill="none" stroke="#000" stroke-width="1"/>
<line x1="858" y1="224" x2="862" y2="224" stroke="#888" stroke-width="1"/>
<path d="M0.0 53.0 C3.4 54.1 13.4 57.0 20.1 59.7 C26.8 62.4 33.6 65.7 40.3 69.1 C47.0 72.5 53.7 76.2 60.4 80.3 C67.1 84.4 73.9 88.8 80.6 93.7 C87.3 98.6 94.1 104.4 100.7 109.4 C107.3 114.4 114.5 119.8 120.0 123.8 C125.5 127.8 128.9 130.3 133.4 133.6 C137.9 136.9 142.4 140.3 146.9 143.7 C151.4 147.0 155.8 150.7 160.3 153.7 C164.8 156.7 169.2 159.3 173.7 161.6 C178.2 163.8 182.7 165.6 187.2 167.2 C191.7 168.8 196.1 170.3 200.6 171.2 C205.1 172.1 209.5 172.4 214.0 172.8 C218.5 173.2 223.2 173.4 227.5 173.4 C231.8 173.4 236.7 173.3 240.0 172.8 C243.3 172.3 243.3 171.8 247.5 170.4 C251.7 169.0 259.4 167.0 265.4 164.5 C271.4 162.0 277.5 158.3 283.3 155.5 C289.1 152.7 294.2 150.2 300.0 147.5 C305.8 144.8 311.9 142.2 317.9 139.4 C323.9 136.6 329.8 133.5 335.8 130.5 C341.8 127.5 347.7 124.5 353.7 121.6 C359.7 118.6 365.1 116.0 371.6 112.8 C378.1 109.6 386.2 105.3 392.8 102.3 C399.4 99.3 406.3 96.8 411.2 94.9 C416.1 93.1 418.7 92.2 422.4 91.2 C426.1 90.2 429.9 89.5 433.6 89.0 C437.3 88.5 441.1 88.2 444.8 87.9 C448.5 87.6 452.3 87.3 456.0 87.1 C459.7 86.9 463.5 86.8 467.2 86.8 C470.9 86.8 474.6 86.7 478.4 86.8 C482.2 86.9 486.5 87.2 490.0 87.3 C493.5 87.4 495.6 87.3 499.6 87.6 C503.6 87.9 509.1 88.5 514.1 89.2 C519.1 89.9 524.8 90.9 529.8 91.8 C534.8 92.7 539.5 93.6 544.4 94.6 C549.3 95.6 553.9 96.8 559.0 97.9 C564.1 99.0 568.2 99.3 575.0 101.3 C581.8 103.3 593.6 107.7 600.0 110.1 C606.4 112.5 608.9 113.5 613.4 115.7 C617.9 117.9 622.4 120.7 626.9 123.5 C631.4 126.3 635.8 129.3 640.3 132.5 C644.8 135.7 649.2 139.0 653.7 142.5 C658.2 146.0 662.7 150.0 667.2 153.7 C671.7 157.4 676.1 160.8 680.6 164.9 C685.1 169.0 689.5 174.1 694.0 178.4 C698.5 182.7 704.0 187.3 707.5 190.7 C711.0 194.1 711.9 195.5 715.0 198.7 C718.1 201.9 722.5 206.0 726.2 209.9 C729.9 213.8 733.7 218.4 737.4 222.1 C741.1 225.8 744.9 229.1 748.6 232.3 C752.3 235.6 756.1 238.5 759.8 241.6 C763.5 244.7 767.3 247.7 771.0 251.0 C774.7 254.3 778.5 257.9 782.2 261.2 C785.9 264.5 789.7 267.6 793.4 270.6 C797.1 273.6 801.0 276.4 804.6 279.0 C808.2 281.6 810.7 283.9 815.0 286.4 C819.3 288.9 826.1 291.7 830.3 294.0 C834.5 296.3 836.9 298.2 840.3 300.4 C843.6 302.6 846.3 304.9 850.4 307.1 C854.5 309.4 862.3 312.8 864.7 313.9" fill="none" stroke="#48d4d4" stroke-width="1"/>
<path d="M0.0 88.8 C1.9 89.6 7.1 91.2 11.2 93.7 C15.3 96.2 19.8 99.7 24.6 103.8 C29.5 107.9 34.3 114.1 40.3 118.4 C46.3 122.7 54.0 126.7 60.4 129.5 C66.8 132.3 72.1 132.1 78.4 135.1 C84.8 138.1 91.6 143.6 98.5 147.5 C105.4 151.4 114.2 156.6 120.0 158.6 C125.8 160.6 128.9 159.4 133.4 159.3 C137.9 159.2 142.4 158.6 146.9 157.8 C151.4 157.1 155.8 156.0 160.3 154.8 C164.8 153.6 169.2 152.1 173.7 150.4 C178.2 148.7 182.7 146.1 187.2 144.8 C191.7 143.5 196.1 143.3 200.6 142.5 C205.1 141.7 209.5 140.7 214.0 139.8 C218.5 138.9 223.2 138.0 227.5 136.9 C231.8 135.8 236.2 134.2 240.0 133.1 C243.8 132.0 245.8 131.7 250.0 130.2 C254.2 128.7 259.9 125.7 264.9 123.9 C269.9 122.1 276.2 120.8 279.9 119.6 C283.6 118.4 284.3 118.0 287.3 116.8 C290.3 115.6 294.0 113.7 297.8 112.3 C301.6 110.9 306.3 109.3 310.0 108.2 C313.7 107.1 315.9 106.7 320.0 105.6 C324.1 104.5 329.8 102.5 334.6 101.5 C339.5 100.5 344.4 100.1 349.1 99.3 C353.8 98.5 358.5 97.5 362.6 96.5 C366.7 95.5 369.7 93.8 373.8 93.1 C377.9 92.4 383.1 92.2 387.2 92.2 C391.3 92.2 394.4 92.2 398.4 92.9 C402.4 93.6 407.2 94.9 411.2 96.3 C415.2 97.7 418.7 100.1 422.4 101.3 C426.1 102.5 429.9 103.1 433.6 103.6 C437.3 104.1 441.1 104.5 444.8 104.3 C448.5 104.1 452.3 103.0 456.0 102.4 C459.7 101.8 463.5 101.3 467.2 100.9 C470.9 100.5 474.6 100.2 478.4 99.9 C482.2 99.6 486.7 99.2 490.0 99.2 C493.3 99.2 495.1 99.3 498.4 99.6 C501.7 99.8 505.9 100.2 509.6 100.7 C513.3 101.2 517.4 101.8 520.8 102.4 C524.2 103.1 526.4 103.4 529.8 104.6 C533.2 105.8 537.3 107.6 541.0 109.3 C544.7 111.0 548.6 112.8 552.2 114.7 C555.9 116.6 559.2 118.5 562.9 120.5 C566.5 122.5 571.1 124.4 574.1 126.7 C577.1 129.1 578.6 131.2 580.8 134.6 C583.0 138.0 585.2 143.0 587.5 146.9 C589.8 150.8 591.7 154.9 594.3 158.1 C596.9 161.3 600.0 163.3 603.2 165.9 C606.4 168.5 609.5 170.7 613.4 173.9 C617.3 177.1 622.4 181.8 626.9 185.1 C631.4 188.4 635.8 191.2 640.3 194.0 C644.8 196.8 649.6 199.8 653.7 201.9 C657.8 204.0 661.5 205.2 664.9 206.3 C668.3 207.4 670.5 207.3 673.9 208.6 C677.3 209.9 681.8 212.3 685.1 214.2 C688.5 216.1 690.3 217.6 694.0 220.0 C697.7 222.4 704.0 226.0 707.5 228.5 C711.0 231.0 711.9 233.2 715.0 235.1 C718.1 237.0 723.1 238.1 726.2 239.8 C729.3 241.5 731.5 243.1 733.7 245.4 C735.9 247.7 736.8 251.0 739.3 253.8 C741.8 256.6 745.2 259.4 748.6 262.2 C752.0 265.0 756.4 267.8 759.8 270.6 C763.2 273.4 766.6 276.1 769.1 279.0 C771.6 281.9 772.8 285.6 774.7 288.3 C776.6 291.0 777.5 293.2 780.3 295.0 C783.1 296.8 788.3 298.1 791.6 299.3 C794.9 300.5 796.9 301.6 800.0 302.4 C803.1 303.2 806.7 303.7 810.1 304.1 C813.5 304.6 816.8 305.1 820.2 305.1 C823.6 305.1 826.9 304.6 830.3 304.1 C833.6 303.7 837.5 303.0 840.3 302.4 C843.1 301.8 844.9 301.4 847.1 300.4 C849.4 299.4 851.6 297.5 853.8 296.2 C856.0 294.9 858.7 293.4 860.5 292.4 C862.3 291.4 864.0 290.6 864.7 290.3" fill="none" stroke="#ff3030" stroke-width="1"/>
<path d="M0.0 141.7 C0.8 142.6 3.0 145.3 4.5 146.9 C6.0 148.5 7.3 149.7 9.0 151.4 C10.7 153.1 12.7 155.6 14.9 157.1 C17.1 158.6 20.0 159.8 22.4 160.7 C24.8 161.6 26.9 161.2 29.1 162.6 C31.3 164.0 33.4 166.4 35.8 169.3 C38.2 172.2 40.8 176.4 43.3 179.8 C45.8 183.2 48.8 186.6 50.7 189.5 C52.7 192.4 53.5 194.8 55.0 197.0 C56.5 199.2 58.1 201.1 59.7 202.4 C61.3 203.7 62.7 204.6 64.4 205.0 C66.1 205.4 68.2 205.3 70.1 204.7 C72.0 204.1 73.6 203.1 75.8 201.4 C78.0 199.8 81.1 196.8 83.3 194.8 C85.5 192.8 86.6 190.6 89.0 189.2 C91.4 187.8 95.0 186.3 97.5 186.3 C100.0 186.3 101.7 187.6 104.1 189.2 C106.5 190.8 109.0 192.8 111.7 195.8 C114.4 198.8 117.5 204.6 120.0 207.0 C122.5 209.4 124.5 209.7 126.7 210.1 C128.9 210.5 131.2 210.5 133.4 209.7 C135.6 208.9 137.8 207.8 140.1 205.2 C142.3 202.6 144.7 198.1 146.9 194.0 C149.2 189.9 151.4 185.3 153.6 180.6 C155.8 175.9 158.1 170.5 160.3 166.0 C162.5 161.5 164.8 157.6 167.0 153.7 C169.2 149.8 171.5 146.0 173.7 142.5 C175.9 139.0 178.2 135.8 180.4 132.5 C182.7 129.2 184.9 125.4 187.2 122.4 C189.4 119.4 191.7 116.5 193.9 114.6 C196.1 112.6 198.4 111.6 200.6 110.7 C202.8 109.8 205.1 109.3 207.3 109.4 C209.5 109.5 211.8 110.3 214.0 111.2 C216.2 112.1 218.4 113.4 220.7 114.6 C222.9 115.8 225.1 117.6 227.5 118.4 C229.9 119.2 233.0 119.4 235.1 119.6 C237.2 119.8 238.1 119.9 240.1 119.3 C242.1 118.7 244.4 117.5 246.8 115.9 C249.2 114.3 251.8 112.2 254.6 109.8 C257.4 107.4 260.6 103.8 263.6 101.4 C266.6 99.0 269.6 97.2 272.6 95.2 C275.6 93.2 278.1 91.3 281.5 89.6 C284.9 87.9 288.6 86.8 292.7 85.1 C296.8 83.4 301.6 81.4 306.1 79.5 C310.7 77.6 315.8 75.0 320.0 73.5 C324.2 72.0 328.2 71.0 331.2 70.7 C334.2 70.4 335.7 71.3 337.9 71.8 C340.1 72.3 342.4 72.8 344.6 73.5 C346.9 74.2 349.1 75.4 351.4 76.0 C353.6 76.6 355.9 76.9 358.1 77.1 C360.3 77.3 362.6 77.5 364.8 77.4 C367.0 77.3 369.4 76.8 371.5 76.3 C373.6 75.8 375.1 75.1 377.1 74.6 C379.2 74.0 381.8 73.5 383.8 73.0 C385.9 72.5 387.3 71.6 389.4 71.5 C391.4 71.4 393.9 71.6 396.1 72.4 C398.3 73.2 400.4 75.1 402.5 76.5 C404.6 77.9 406.8 78.4 409.0 80.6 C411.2 82.8 413.5 86.4 415.7 89.6 C417.9 92.8 420.2 96.1 422.4 99.6 C424.6 103.1 426.9 107.4 429.1 110.8 C431.3 114.2 433.6 117.1 435.8 119.8 C438.1 122.5 440.7 125.6 442.6 127.1 C444.5 128.6 445.3 128.8 447.0 129.0 C448.7 129.2 450.5 129.0 452.6 128.2 C454.7 127.4 457.0 126.4 459.4 124.3 C461.8 122.2 464.4 118.5 467.2 115.3 C470.0 112.1 473.5 108.0 476.1 105.2 C478.7 102.4 480.8 100.4 482.9 98.5 C485.0 96.6 487.0 95.1 488.5 94.0 C490.0 92.9 489.8 92.4 491.7 91.8 C493.6 91.2 497.0 90.4 499.6 90.3 C502.2 90.2 504.8 90.4 507.4 91.2 C510.0 92.0 512.6 93.6 515.2 95.1 C517.8 96.6 520.5 98.3 523.1 100.2 C525.7 102.1 528.3 104.1 530.9 106.3 C533.5 108.5 536.2 110.9 538.8 113.6 C541.4 116.3 544.0 119.6 546.6 122.6 C549.2 125.6 551.7 128.0 554.4 131.5 C557.1 135.0 560.0 139.1 562.9 143.5 C565.8 147.9 568.9 152.3 571.9 158.1 C574.9 163.9 577.8 170.8 580.8 178.2 C583.8 185.6 587.2 195.0 589.8 202.8 C592.4 210.6 594.5 218.0 596.5 225.2 C598.5 232.3 600.3 239.9 601.8 245.7 C603.3 251.5 604.4 255.4 605.7 260.0 C607.0 264.6 608.3 269.4 609.6 273.1 C610.9 276.8 612.2 279.6 613.5 282.2 C614.8 284.8 616.1 287.3 617.4 288.8 C618.7 290.3 619.8 290.8 621.3 291.1 C622.8 291.4 624.9 291.3 626.6 290.7 C628.4 290.1 630.1 288.7 631.8 287.5 C633.5 286.3 635.3 285.0 637.0 283.6 C638.7 282.2 640.5 280.6 642.2 279.4 C644.0 278.2 645.8 277.0 647.5 276.4 C649.2 275.8 650.5 275.6 652.7 275.7 C654.9 275.8 657.9 276.7 660.5 276.8 C663.1 276.9 666.0 276.9 668.4 276.4 C670.8 275.9 673.0 274.8 674.9 273.8 C676.8 272.8 678.3 272.0 680.0 270.5 C681.7 269.0 682.8 266.5 684.9 264.9 C687.0 263.3 689.9 261.2 692.4 260.7 C694.9 260.1 697.4 260.4 699.9 261.6 C702.4 262.8 704.8 265.3 707.3 267.9 C709.8 270.4 712.3 273.8 714.8 276.9 C717.3 280.0 720.0 283.6 722.2 286.6 C724.4 289.6 726.4 292.4 728.2 294.8 C730.0 297.2 731.0 298.6 733.0 301.0 C735.0 303.4 737.5 306.0 739.9 309.2 C742.3 312.4 744.9 316.2 747.4 320.2 C749.9 324.1 752.4 328.6 754.9 332.9 C757.4 337.2 759.8 341.6 762.3 346.0 C764.8 350.4 767.3 355.0 769.8 359.0 C772.3 363.0 774.9 366.6 777.2 370.2 C779.5 373.8 781.5 377.6 783.5 380.5 C785.5 383.4 787.5 385.5 789.5 387.5 C791.5 389.5 793.7 391.4 795.7 392.4 C797.7 393.4 799.7 394.0 801.7 393.4 C803.7 392.8 805.5 391.2 807.7 388.7 C809.9 386.2 812.6 382.7 815.1 378.2 C817.6 373.7 820.1 367.5 822.6 361.8 C825.1 356.1 828.0 349.4 830.1 343.9 C832.2 338.4 833.3 333.4 835.3 329.0 C837.3 324.6 839.8 320.8 842.0 317.2 C844.2 313.6 846.5 310.7 848.7 307.1 C851.0 303.5 853.5 298.9 855.5 295.4 C857.5 291.9 858.8 289.2 860.5 286.1 C862.2 283.0 864.7 278.4 865.5 276.9" fill="none" stroke="#000" stroke-width="1.5"/>
<line x1="0" y1="28.3" x2="920" y2="28.3" stroke="#6a6aff" stroke-width="1.3"/>
<line x1="0" y1="233.5" x2="920.0" y2="233.5" stroke="#0000ff" stroke-width="1.2" stroke-dasharray="2.3 1.6"/>
<line x1="0" y1="378.5" x2="920.0" y2="378.5" stroke="#0000ff" stroke-width="1.2" stroke-dasharray="2.3 1.6"/>
<line x1="0" y1="418.5" x2="787.0" y2="418.5" stroke="#0000ff" stroke-width="1.2" stroke-dasharray="2.3 1.6"/>
<line x1="616" y1="294.4" x2="862" y2="294.4" stroke="#2020ff" stroke-width="1.3" stroke-dasharray="6.3 3.5 2 4.1"/>
<line x1="848" y1="273.9" x2="908" y2="273.9" stroke="#ff4040" stroke-width="1.2" stroke-dasharray="6.3 3.5 2 4.1"/>
<line x1="0" y1="272" x2="665" y2="44" stroke="#ff1010" stroke-width="1.9"/>
<line x1="473.4" y1="82" x2="793" y2="326" stroke="#3030ff" stroke-width="1"/>
<rect x="0" y="507.6" width="920" height="2" fill="#0000ff"/>
</svg>
<g font-size="8.8">
<line x1="920.5" y1="12" x2="920.5" y2="516" stroke="#000" stroke-width="1"/>
<line x1="920" y1="511.95" x2="926" y2="511.95" stroke="#000" stroke-width="0.9"/>
<line x1="920" y1="508.09" x2="923" y2="508.09" stroke="#000" stroke-width="0.9"/>
<line x1="920" y1="504.24" x2="923" y2="504.24" stroke="#000" stroke-width="0.9"/>
<line x1="920" y1="500.39" x2="923" y2="500.39" stroke="#000" stroke-width="0.9"/>
<line x1="920" y1="496.56" x2="923" y2="496.56" stroke="#000" stroke-width="0.9"/>
<line x1="920" y1="492.74" x2="926" y2="492.74" stroke="#000" stroke-width="0.9"/>
<line x1="920" y1="488.93" x2="923" y2="488.93" stroke="#000" stroke-width="0.9"/>
<line x1="920" y1="485.13" x2="923" y2="485.13" stroke="#000" stroke-width="0.9"/>
<line x1="920" y1="481.34" x2="923" y2="481.34" stroke="#000" stroke-width="0.9"/>
<line x1="920" y1="477.56" x2="923" y2="477.56" stroke="#000" stroke-width="0.9"/>
<line x1="920" y1="473.79" x2="926" y2="473.79" stroke="#000" stroke-width="0.9"/>
<line x1="920" y1="470.03" x2="923" y2="470.03" stroke="#000" stroke-width="0.9"/>
<line x1="920" y1="466.29" x2="923" y2="466.29" stroke="#000" stroke-width="0.9"/>
<line x1="920" y1="462.55" x2="923" y2="462.55" stroke="#000" stroke-width="0.9"/>
<line x1="920" y1="458.82" x2="923" y2="458.82" stroke="#000" stroke-width="0.9"/>
<line x1="920" y1="455.11" x2="926" y2="455.11" stroke="#000" stroke-width="0.9"/>
<line x1="920" y1="451.40" x2="923" y2="451.40" stroke="#000" stroke-width="0.9"/>
<line x1="920" y1="447.70" x2="923" y2="447.70" stroke="#000" stroke-width="0.9"/>
<line x1="920" y1="444.02" x2="923" y2="444.02" stroke="#000" stroke-width="0.9"/>
<line x1="920" y1="440.34" x2="923" y2="440.34" stroke="#000" stroke-width="0.9"/>
<line x1="920" y1="436.68" x2="926" y2="436.68" stroke="#000" stroke-width="0.9"/>
<line x1="920" y1="433.02" x2="923" y2="433.02" stroke="#000" stroke-width="0.9"/>
<line x1="920" y1="429.37" x2="923" y2="429.37" stroke="#000" stroke-width="0.9"/>
<line x1="920" y1="425.74" x2="923" y2="425.74" stroke="#000" stroke-width="0.9"/>
<line x1="920" y1="422.11" x2="923" y2="422.11" stroke="#000" stroke-width="0.9"/>
<line x1="920" y1="418.49" x2="926" y2="418.49" stroke="#000" stroke-width="0.9"/>
<line x1="920" y1="414.89" x2="923" y2="414.89" stroke="#000" stroke-width="0.9"/>
<line x1="920" y1="411.29" x2="923" y2="411.29" stroke="#000" stroke-width="0.9"/>
<line x1="920" y1="407.70" x2="923" y2="407.70" stroke="#000" stroke-width="0.9"/>
<line x1="920" y1="404.12" x2="923" y2="404.12" stroke="#000" stroke-width="0.9"/>
<line x1="920" y1="400.55" x2="926" y2="400.55" stroke="#000" stroke-width="0.9"/>
<line x1="920" y1="396.99" x2="923" y2="396.99" stroke="#000" stroke-width="0.9"/>
<line x1="920" y1="393.44" x2="923" y2="393.44" stroke="#000" stroke-width="0.9"/>
<line x1="920" y1="389.90" x2="923" y2="389.90" stroke="#000" stroke-width="0.9"/>
<line x1="920" y1="386.37" x2="923" y2="386.37" stroke="#000" stroke-width="0.9"/>
<line x1="920" y1="382.84" x2="926" y2="382.84" stroke="#000" stroke-width="0.9"/>
<line x1="920" y1="379.33" x2="923" y2="379.33" stroke="#000" stroke-width="0.9"/>
<line x1="920" y1="375.82" x2="923" y2="375.82" stroke="#000" stroke-width="0.9"/>
<line x1="920" y1="372.33" x2="923" y2="372.33" stroke="#000" stroke-width="0.9"/>
<line x1="920" y1="368.84" x2="923" y2="368.84" stroke="#000" stroke-width="0.9"/>
<line x1="920" y1="365.36" x2="926" y2="365.36" stroke="#000" stroke-width="0.9"/>
<line x1="920" y1="361.89" x2="923" y2="361.89" stroke="#000" stroke-width="0.9"/>
<line x1="920" y1="358.43" x2="923" y2="358.43" stroke="#000" stroke-width="0.9"/>
<line x1="920" y1="354.98" x2="923" y2="354.98" stroke="#000" stroke-width="0.9"/>
<line x1="920" y1="351.54" x2="923" y2="351.54" stroke="#000" stroke-width="0.9"/>
<line x1="920" y1="348.11" x2="926" y2="348.11" stroke="#000" stroke-width="0.9"/>
<line x1="920" y1="344.68" x2="923" y2="344.68" stroke="#000" stroke-width="0.9"/>
<line x1="920" y1="341.26" x2="923" y2="341.26" stroke="#000" stroke-width="0.9"/>
<line x1="920" y1="337.86" x2="923" y2="337.86" stroke="#000" stroke-width="0.9"/>
<line x1="920" y1="334.46" x2="923" y2="334.46" stroke="#000" stroke-width="0.9"/>
<line x1="920" y1="331.07" x2="926" y2="331.07" stroke="#000" stroke-width="0.9"/>
<line x1="920" y1="327.68" x2="923" y2="327.68" stroke="#000" stroke-width="0.9"/>
<line x1="920" y1="324.31" x2="923" y2="324.31" stroke="#000" stroke-width="0.9"/>
<line x1="920" y1="320.94" x2="923" y2="320.94" stroke="#000" stroke-width="0.9"/>
<line x1="920" y1="317.59" x2="923" y2="317.59" stroke="#000" stroke-width="0.9"/>
<line x1="920" y1="314.24" x2="926" y2="314.24" stroke="#000" stroke-width="0.9"/>
<line x1="920" y1="310.90" x2="923" y2="310.90" stroke="#000" stroke-width="0.9"/>
<line x1="920" y1="307.56" x2="923" y2="307.56" stroke="#000" stroke-width="0.9"/>
<line x1="920" y1="304.24" x2="923" y2="304.24" stroke="#000" stroke-width="0.9"/>
<line x1="920" y1="300.92" x2="923" y2="300.92" stroke="#000" stroke-width="0.9"/>
<line x1="920" y1="297.62" x2="926" y2="297.62" stroke="#000" stroke-width="0.9"/>
<line x1="920" y1="294.32" x2="923" y2="294.32" stroke="#000" stroke-width="0.9"/>
<line x1="920" y1="291.02" x2="923" y2="291.02" stroke="#000" stroke-width="0.9"/>
<line x1="920" y1="287.74" x2="923" y2="287.74" stroke="#000" stroke-width="0.9"/>
<line x1="920" y1="284.46" x2="923" y2="284.46" stroke="#000" stroke-width="0.9"/>
<line x1="920" y1="281.20" x2="926" y2="281.20" stroke="#000" stroke-width="0.9"/>
<line x1="920" y1="277.94" x2="923" y2="277.94" stroke="#000" stroke-width="0.9"/>
<line x1="920" y1="274.68" x2="923" y2="274.68" stroke="#000" stroke-width="0.9"/>
<line x1="920" y1="271.44" x2="923" y2="271.44" stroke="#000" stroke-width="0.9"/>
<line x1="920" y1="268.20" x2="923" y2="268.20" stroke="#000" stroke-width="0.9"/>
<line x1="920" y1="264.97" x2="926" y2="264.97" stroke="#000" stroke-width="0.9"/>
<line x1="920" y1="261.75" x2="923" y2="261.75" stroke="#000" stroke-width="0.9"/>
<line x1="920" y1="258.54" x2="923" y2="258.54" stroke="#000" stroke-width="0.9"/>
<line x1="920" y1="255.33" x2="923" y2="255.33" stroke="#000" stroke-width="0.9"/>
<line x1="920" y1="252.13" x2="923" y2="252.13" stroke="#000" stroke-width="0.9"/>
<line x1="920" y1="248.94" x2="926" y2="248.94" stroke="#000" stroke-width="0.9"/>
<line x1="920" y1="245.76" x2="923" y2="245.76" stroke="#000" stroke-width="0.9"/>
<line x1="920" y1="242.58" x2="923" y2="242.58" stroke="#000" stroke-width="0.9"/>
<line x1="920" y1="239.41" x2="923" y2="239.41" stroke="#000" stroke-width="0.9"/>
<line x1="920" y1="236.25" x2="923" y2="236.25" stroke="#000" stroke-width="0.9"/>
<line x1="920" y1="233.10" x2="926" y2="233.10" stroke="#000" stroke-width="0.9"/>
<line x1="920" y1="229.95" x2="923" y2="229.95" stroke="#000" stroke-width="0.9"/>
<line x1="920" y1="226.81" x2="923" y2="226.81" stroke="#000" stroke-width="0.9"/>
<line x1="920" y1="223.68" x2="923" y2="223.68" stroke="#000" stroke-width="0.9"/>
<line x1="920" y1="220.55" x2="923" y2="220.55" stroke="#000" stroke-width="0.9"/>
<line x1="920" y1="217.44" x2="926" y2="217.44" stroke="#000" stroke-width="0.9"/>
<line x1="920" y1="214.33" x2="923" y2="214.33" stroke="#000" stroke-width="0.9"/>
<line x1="920" y1="211.22" x2="923" y2="211.22" stroke="#000" stroke-width="0.9"/>
<line x1="920" y1="208.13" x2="923" y2="208.13" stroke="#000" stroke-width="0.9"/>
<line x1="920" y1="205.04" x2="923" y2="205.04" stroke="#000" stroke-width="0.9"/>
<line x1="920" y1="201.95" x2="926" y2="201.95" stroke="#000" stroke-width="0.9"/>
<line x1="920" y1="198.88" x2="923" y2="198.88" stroke="#000" stroke-width="0.9"/>
<line x1="920" y1="195.81" x2="923" y2="195.81" stroke="#000" stroke-width="0.9"/>
<line x1="920" y1="192.75" x2="923" y2="192.75" stroke="#000" stroke-width="0.9"/>
<line x1="920" y1="189.69" x2="923" y2="189.69" stroke="#000" stroke-width="0.9"/>
<line x1="920" y1="186.65" x2="926" y2="186.65" stroke="#000" stroke-width="0.9"/>
<line x1="920" y1="183.61" x2="923" y2="183.61" stroke="#000" stroke-width="0.9"/>
<line x1="920" y1="180.57" x2="923" y2="180.57" stroke="#000" stroke-width="0.9"/>
<line x1="920" y1="177.54" x2="923" y2="177.54" stroke="#000" stroke-width="0.9"/>
<line x1="920" y1="174.52" x2="923" y2="174.52" stroke="#000" stroke-width="0.9"/>
<line x1="920" y1="171.51" x2="926" y2="171.51" stroke="#000" stroke-width="0.9"/>
<line x1="920" y1="168.50" x2="923" y2="168.50" stroke="#000" stroke-width="0.9"/>
<line x1="920" y1="165.50" x2="923" y2="165.50" stroke="#000" stroke-width="0.9"/>
<line x1="920" y1="162.51" x2="923" y2="162.51" stroke="#000" stroke-width="0.9"/>
<line x1="920" y1="159.52" x2="923" y2="159.52" stroke="#000" stroke-width="0.9"/>
<line x1="920" y1="156.54" x2="926" y2="156.54" stroke="#000" stroke-width="0.9"/>
<line x1="920" y1="153.57" x2="923" y2="153.57" stroke="#000" stroke-width="0.9"/>
<line x1="920" y1="150.60" x2="923" y2="150.60" stroke="#000" stroke-width="0.9"/>
<line x1="920" y1="147.64" x2="923" y2="147.64" stroke="#000" stroke-width="0.9"/>
<line x1="920" y1="144.69" x2="923" y2="144.69" stroke="#000" stroke-width="0.9"/>
<line x1="920" y1="141.74" x2="926" y2="141.74" stroke="#000" stroke-width="0.9"/>
<line x1="920" y1="138.80" x2="923" y2="138.80" stroke="#000" stroke-width="0.9"/>
<line x1="920" y1="135.86" x2="923" y2="135.86" stroke="#000" stroke-width="0.9"/>
<line x1="920" y1="132.93" x2="923" y2="132.93" stroke="#000" stroke-width="0.9"/>
<line x1="920" y1="130.01" x2="923" y2="130.01" stroke="#000" stroke-width="0.9"/>
<line x1="920" y1="127.09" x2="926" y2="127.09" stroke="#000" stroke-width="0.9"/>
<line x1="920" y1="124.18" x2="923" y2="124.18" stroke="#000" stroke-width="0.9"/>
<line x1="920" y1="121.28" x2="923" y2="121.28" stroke="#000" stroke-width="0.9"/>
<line x1="920" y1="118.38" x2="923" y2="118.38" stroke="#000" stroke-width="0.9"/>
<line x1="920" y1="115.49" x2="923" y2="115.49" stroke="#000" stroke-width="0.9"/>
<line x1="920" y1="112.60" x2="926" y2="112.60" stroke="#000" stroke-width="0.9"/>
<line x1="920" y1="109.72" x2="923" y2="109.72" stroke="#000" stroke-width="0.9"/>
<line x1="920" y1="106.85" x2="923" y2="106.85" stroke="#000" stroke-width="0.9"/>
<line x1="920" y1="103.98" x2="923" y2="103.98" stroke="#000" stroke-width="0.9"/>
<line x1="920" y1="101.12" x2="923" y2="101.12" stroke="#000" stroke-width="0.9"/>
<line x1="920" y1="98.27" x2="926" y2="98.27" stroke="#000" stroke-width="0.9"/>
<line x1="920" y1="95.42" x2="923" y2="95.42" stroke="#000" stroke-width="0.9"/>
<line x1="920" y1="92.58" x2="923" y2="92.58" stroke="#000" stroke-width="0.9"/>
<line x1="920" y1="89.74" x2="923" y2="89.74" stroke="#000" stroke-width="0.9"/>
<line x1="920" y1="86.91" x2="923" y2="86.91" stroke="#000" stroke-width="0.9"/>
<line x1="920" y1="84.08" x2="926" y2="84.08" stroke="#000" stroke-width="0.9"/>
<line x1="920" y1="81.26" x2="923" y2="81.26" stroke="#000" stroke-width="0.9"/>
<line x1="920" y1="78.45" x2="923" y2="78.45" stroke="#000" stroke-width="0.9"/>
<line x1="920" y1="75.64" x2="923" y2="75.64" stroke="#000" stroke-width="0.9"/>
<line x1="920" y1="72.84" x2="923" y2="72.84" stroke="#000" stroke-width="0.9"/>
<line x1="920" y1="70.05" x2="926" y2="70.05" stroke="#000" stroke-width="0.9"/>
<line x1="920" y1="67.26" x2="923" y2="67.26" stroke="#000" stroke-width="0.9"/>
<line x1="920" y1="64.47" x2="923" y2="64.47" stroke="#000" stroke-width="0.9"/>
<line x1="920" y1="61.69" x2="923" y2="61.69" stroke="#000" stroke-width="0.9"/>
<line x1="920" y1="58.92" x2="923" y2="58.92" stroke="#000" stroke-width="0.9"/>
<line x1="920" y1="56.15" x2="926" y2="56.15" stroke="#000" stroke-width="0.9"/>
<line x1="920" y1="53.39" x2="923" y2="53.39" stroke="#000" stroke-width="0.9"/>
<line x1="920" y1="50.63" x2="923" y2="50.63" stroke="#000" stroke-width="0.9"/>
<line x1="920" y1="47.88" x2="923" y2="47.88" stroke="#000" stroke-width="0.9"/>
<line x1="920" y1="45.14" x2="923" y2="45.14" stroke="#000" stroke-width="0.9"/>
<line x1="920" y1="42.40" x2="926" y2="42.40" stroke="#000" stroke-width="0.9"/>
<line x1="920" y1="39.67" x2="923" y2="39.67" stroke="#000" stroke-width="0.9"/>
<line x1="920" y1="36.94" x2="923" y2="36.94" stroke="#000" stroke-width="0.9"/>
<line x1="920" y1="34.21" x2="923" y2="34.21" stroke="#000" stroke-width="0.9"/>
<line x1="920" y1="31.50" x2="923" y2="31.50" stroke="#000" stroke-width="0.9"/>
<line x1="920" y1="28.78" x2="926" y2="28.78" stroke="#000" stroke-width="0.9"/>
<line x1="920" y1="26.08" x2="923" y2="26.08" stroke="#000" stroke-width="0.9"/>
<line x1="920" y1="23.38" x2="923" y2="23.38" stroke="#000" stroke-width="0.9"/>
<line x1="920" y1="20.68" x2="923" y2="20.68" stroke="#000" stroke-width="0.9"/>
<line x1="920" y1="17.99" x2="923" y2="17.99" stroke="#000" stroke-width="0.9"/>
<line x1="920" y1="15.31" x2="926" y2="15.31" stroke="#000" stroke-width="0.9"/>
<text x="932.7" y="496.0" textLength="18.3" lengthAdjust="spacingAndGlyphs">3550</text>
<text x="932.7" y="477.1" textLength="18.3" lengthAdjust="spacingAndGlyphs">3600</text>
<text x="932.7" y="458.4" textLength="18.3" lengthAdjust="spacingAndGlyphs">3650</text>
<text x="932.7" y="440.0" textLength="18.3" lengthAdjust="spacingAndGlyphs">3700</text>
<text x="932.7" y="421.8" textLength="18.3" lengthAdjust="spacingAndGlyphs">3750</text>
<text x="932.7" y="403.9" textLength="18.3" lengthAdjust="spacingAndGlyphs">3800</text>
<text x="932.7" y="386.1" textLength="18.3" lengthAdjust="spacingAndGlyphs">3850</text>
<text x="932.7" y="368.7" textLength="18.3" lengthAdjust="spacingAndGlyphs">3900</text>
<text x="932.7" y="351.4" textLength="18.3" lengthAdjust="spacingAndGlyphs">3950</text>
<text x="932.7" y="334.4" textLength="18.3" lengthAdjust="spacingAndGlyphs">4000</text>
<text x="932.7" y="317.5" textLength="18.3" lengthAdjust="spacingAndGlyphs">4050</text>
<text x="932.7" y="300.9" textLength="18.3" lengthAdjust="spacingAndGlyphs">4100</text>
<text x="932.7" y="284.5" textLength="18.3" lengthAdjust="spacingAndGlyphs">4150</text>
<text x="932.7" y="268.3" textLength="18.3" lengthAdjust="spacingAndGlyphs">4200</text>
<text x="932.7" y="252.2" textLength="18.3" lengthAdjust="spacingAndGlyphs">4250</text>
<text x="932.7" y="236.4" textLength="18.3" lengthAdjust="spacingAndGlyphs">4300</text>
<text x="932.7" y="220.7" textLength="18.3" lengthAdjust="spacingAndGlyphs">4350</text>
<text x="932.7" y="205.3" textLength="18.3" lengthAdjust="spacingAndGlyphs">4400</text>
<text x="932.7" y="189.9" textLength="18.3" lengthAdjust="spacingAndGlyphs">4450</text>
<text x="932.7" y="174.8" textLength="18.3" lengthAdjust="spacingAndGlyphs">4500</text>
<text x="932.7" y="159.8" textLength="18.3" lengthAdjust="spacingAndGlyphs">4550</text>
<text x="932.7" y="145.0" textLength="18.3" lengthAdjust="spacingAndGlyphs">4600</text>
<text x="932.7" y="130.4" textLength="18.3" lengthAdjust="spacingAndGlyphs">4650</text>
<text x="932.7" y="115.9" textLength="18.3" lengthAdjust="spacingAndGlyphs">4700</text>
<text x="932.7" y="101.6" textLength="18.3" lengthAdjust="spacingAndGlyphs">4750</text>
<text x="932.7" y="87.4" textLength="18.3" lengthAdjust="spacingAndGlyphs">4800</text>
<text x="932.7" y="73.3" textLength="18.3" lengthAdjust="spacingAndGlyphs">4850</text>
<text x="932.7" y="59.5" textLength="18.3" lengthAdjust="spacingAndGlyphs">4900</text>
<text x="932.7" y="45.7" textLength="18.3" lengthAdjust="spacingAndGlyphs">4950</text>
<text x="932.7" y="32.1" textLength="18.3" lengthAdjust="spacingAndGlyphs">5000</text>
</g>
<rect x="923" y="236.4" width="27" height="10.1" fill="#000"/>
<text x="924.2" y="244.9" font-size="8.6" textLength="25.4" lengthAdjust="spacingAndGlyphs" style="fill:#ff0000;stroke:#ff0000;stroke-width:0.1px">4270.96</text>
<g font-size="8.8">
<rect x="0" y="515" width="920" height="1.6" fill="#a0a0a0"/>
<rect x="0" y="525.8" width="920" height="1" fill="#000"/>
<line x1="1.7" y1="516.2" x2="1.7" y2="526.5" stroke="#1a1a1a" stroke-width="0.95"/>
<text transform="translate(3.3,524.2) scale(0.9,1)">14</text>
<line x1="25.6" y1="516.2" x2="25.6" y2="526.5" stroke="#1a1a1a" stroke-width="0.95"/>
<text transform="translate(27.2,524.2) scale(0.9,1)">21</text>
<line x1="49.5" y1="516.2" x2="49.5" y2="526.5" stroke="#1a1a1a" stroke-width="0.95"/>
<text transform="translate(51.1,524.2) scale(0.9,1)">28</text>
<line x1="73.5" y1="516.2" x2="73.5" y2="526.5" stroke="#1a1a1a" stroke-width="0.95"/>
<text transform="translate(75.1,524.2) scale(0.9,1)">7</text>
<line x1="97.6" y1="516.2" x2="97.6" y2="526.5" stroke="#1a1a1a" stroke-width="0.95"/>
<text transform="translate(99.2,524.2) scale(0.9,1)">14</text>
<line x1="121.5" y1="516.2" x2="121.5" y2="526.5" stroke="#1a1a1a" stroke-width="0.95"/>
<text transform="translate(123.1,524.2) scale(0.9,1)">21</text>
<line x1="145.5" y1="516.2" x2="145.5" y2="526.5" stroke="#1a1a1a" stroke-width="0.95"/>
<text transform="translate(147.1,524.2) scale(0.9,1)">28</text>
<line x1="169.3" y1="516.2" x2="169.3" y2="526.5" stroke="#1a1a1a" stroke-width="0.95"/>
<text transform="translate(170.9,524.2) scale(0.9,1)">4</text>
<line x1="192.5" y1="516.2" x2="192.5" y2="526.5" stroke="#1a1a1a" stroke-width="0.95"/>
<text transform="translate(194.1,524.2) scale(0.9,1)">11</text>
<line x1="216.3" y1="516.2" x2="216.3" y2="526.5" stroke="#1a1a1a" stroke-width="0.95"/>
<text transform="translate(217.9,524.2) scale(0.9,1)">18</text>
<line x1="235.9" y1="516.2" x2="235.9" y2="526.5" stroke="#1a1a1a" stroke-width="0.95"/>
<text transform="translate(237.5,524.2) scale(0.9,1)">25</text>
<line x1="259.7" y1="516.2" x2="259.7" y2="526.5" stroke="#1a1a1a" stroke-width="0.95"/>
<text transform="translate(261.3,524.2) scale(0.9,1)">2</text>
<line x1="283.7" y1="516.2" x2="283.7" y2="526.5" stroke="#1a1a1a" stroke-width="0.95"/>
<text transform="translate(285.3,524.2) scale(0.9,1)">9</text>
<line x1="306.9" y1="516.2" x2="306.9" y2="526.5" stroke="#1a1a1a" stroke-width="0.95"/>
<text transform="translate(308.5,524.2) scale(0.9,1)">16</text>
<line x1="330.7" y1="516.2" x2="330.7" y2="526.5" stroke="#1a1a1a" stroke-width="0.95"/>
<text transform="translate(332.3,524.2) scale(0.9,1)">23</text>
<line x1="354.6" y1="516.2" x2="354.6" y2="526.5" stroke="#1a1a1a" stroke-width="0.95"/>
<text transform="translate(356.2,524.2) scale(0.9,1)">30</text>
<line x1="378.6" y1="516.2" x2="378.6" y2="526.5" stroke="#1a1a1a" stroke-width="0.95"/>
<text transform="translate(380.2,524.2) scale(0.9,1)">6</text>
<line x1="402.7" y1="516.2" x2="402.7" y2="526.5" stroke="#1a1a1a" stroke-width="0.95"/>
<text transform="translate(404.3,524.2) scale(0.9,1)">13</text>
<line x1="426.5" y1="516.2" x2="426.5" y2="526.5" stroke="#1a1a1a" stroke-width="0.95"/>
<text transform="translate(428.1,524.2) scale(0.9,1)">20</text>
<line x1="449.7" y1="516.2" x2="449.7" y2="526.5" stroke="#1a1a1a" stroke-width="0.95"/>
<text transform="translate(451.3,524.2) scale(0.9,1)">28</text>
<line x1="468.8" y1="516.2" x2="468.8" y2="526.5" stroke="#1a1a1a" stroke-width="0.95"/>
<text transform="translate(470.4,524.2) scale(0.9,1)">4</text>
<line x1="492.5" y1="516.2" x2="492.5" y2="526.5" stroke="#1a1a1a" stroke-width="0.95"/>
<text transform="translate(494.1,524.2) scale(0.9,1)">11</text>
<line x1="516.8" y1="516.2" x2="516.8" y2="526.5" stroke="#1a1a1a" stroke-width="0.95"/>
<text transform="translate(518.4,524.2) scale(0.9,1)">18</text>
<line x1="540.9" y1="516.2" x2="540.9" y2="526.5" stroke="#1a1a1a" stroke-width="0.95"/>
<text transform="translate(542.5,524.2) scale(0.9,1)">25</text>
<line x1="564.8" y1="516.2" x2="564.8" y2="526.5" stroke="#1a1a1a" stroke-width="0.95"/>
<text transform="translate(566.4,524.2) scale(0.9,1)">1</text>
<line x1="588.4" y1="516.2" x2="588.4" y2="526.5" stroke="#1a1a1a" stroke-width="0.95"/>
<text transform="translate(590.0,524.2) scale(0.9,1)">8</text>
<line x1="612.6" y1="516.2" x2="612.6" y2="526.5" stroke="#1a1a1a" stroke-width="0.95"/>
<text transform="translate(614.2,524.2) scale(0.9,1)">16</text>
<line x1="631.6" y1="516.2" x2="631.6" y2="526.5" stroke="#1a1a1a" stroke-width="0.95"/>
<text transform="translate(633.2,524.2) scale(0.9,1)">22</text>
<line x1="655.6" y1="516.2" x2="655.6" y2="526.5" stroke="#1a1a1a" stroke-width="0.95"/>
<text transform="translate(657.2,524.2) scale(0.9,1)">29</text>
<line x1="679.4" y1="516.2" x2="679.4" y2="526.5" stroke="#1a1a1a" stroke-width="0.95"/>
<text transform="translate(681.0,524.2) scale(0.9,1)">5</text>
<line x1="702.7" y1="516.2" x2="702.7" y2="526.5" stroke="#1a1a1a" stroke-width="0.95"/>
<text transform="translate(704.3,524.2) scale(0.9,1)">12</text>
<line x1="726.5" y1="516.2" x2="726.5" y2="526.5" stroke="#1a1a1a" stroke-width="0.95"/>
<text transform="translate(728.1,524.2) scale(0.9,1)">20</text>
<line x1="745.8" y1="516.2" x2="745.8" y2="526.5" stroke="#1a1a1a" stroke-width="0.95"/>
<text transform="translate(747.4,524.2) scale(0.9,1)">26</text>
<line x1="769.3" y1="516.2" x2="769.3" y2="526.5" stroke="#1a1a1a" stroke-width="0.95"/>
<text transform="translate(770.9,524.2) scale(0.9,1)">3</text>
<line x1="793.7" y1="516.2" x2="793.7" y2="526.5" stroke="#1a1a1a" stroke-width="0.95"/>
<text transform="translate(795.3,524.2) scale(0.9,1)">11</text>
<line x1="812.6" y1="516.2" x2="812.6" y2="526.5" stroke="#1a1a1a" stroke-width="0.95"/>
<text transform="translate(814.2,524.2) scale(0.9,1)">17</text>
<line x1="836.5" y1="516.2" x2="836.5" y2="526.5" stroke="#1a1a1a" stroke-width="0.95"/>
<text transform="translate(838.1,524.2) scale(0.9,1)">24</text>
<line x1="860.2" y1="516.2" x2="860.2" y2="526.5" stroke="#1a1a1a" stroke-width="0.95"/>
<text transform="translate(861.8,524.2) scale(0.9,1)">31</text>
<line x1="879.3" y1="516.2" x2="879.3" y2="526.5" stroke="#1a1a1a" stroke-width="0.95"/>
<text transform="translate(880.9,524.2) scale(0.9,1)">7</text>
<line x1="903.7" y1="516.2" x2="903.7" y2="526.5" stroke="#1a1a1a" stroke-width="0.95"/>
<text transform="translate(905.3,524.2) scale(0.9,1)">14</text>
<line x1="54.5" y1="526" x2="54.5" y2="536" stroke="#000" stroke-width="1"/>
<text x="55.4" y="535.1" textLength="22.0" lengthAdjust="spacingAndGlyphs">March</text>
<line x1="164.4" y1="516" x2="164.4" y2="536" stroke="#000" stroke-width="1"/>
<text x="165.3" y="535.1" textLength="16.5" lengthAdjust="spacingAndGlyphs">April</text>
<line x1="259.9" y1="526" x2="259.9" y2="536" stroke="#000" stroke-width="1"/>
<text x="260.8" y="535.1" textLength="14.3" lengthAdjust="spacingAndGlyphs">May</text>
<line x1="364.5" y1="526" x2="364.5" y2="536" stroke="#000" stroke-width="1"/>
<text x="365.4" y="535.1" textLength="18.5" lengthAdjust="spacingAndGlyphs">June</text>
<line x1="464.5" y1="516" x2="464.5" y2="536" stroke="#000" stroke-width="1"/>
<text x="465.4" y="535.1" textLength="14.6" lengthAdjust="spacingAndGlyphs">July</text>
<line x1="564.5" y1="526" x2="564.5" y2="536" stroke="#000" stroke-width="1"/>
<text x="565.4" y="535.1" textLength="26.0" lengthAdjust="spacingAndGlyphs">August</text>
<line x1="669.5" y1="516" x2="669.5" y2="536" stroke="#000" stroke-width="1"/>
<text x="670.4" y="535.1" textLength="40.6" lengthAdjust="spacingAndGlyphs">September</text>
<line x1="769.5" y1="526" x2="769.5" y2="536" stroke="#000" stroke-width="1"/>
<text x="770.4" y="535.1" textLength="29.3" lengthAdjust="spacingAndGlyphs">October</text>
<line x1="865.5" y1="526" x2="865.5" y2="536" stroke="#000" stroke-width="1"/>
<text x="866.4" y="535.1" textLength="37.7" lengthAdjust="spacingAndGlyphs">November</text>
</g>
</svg>
</div></body></html>
